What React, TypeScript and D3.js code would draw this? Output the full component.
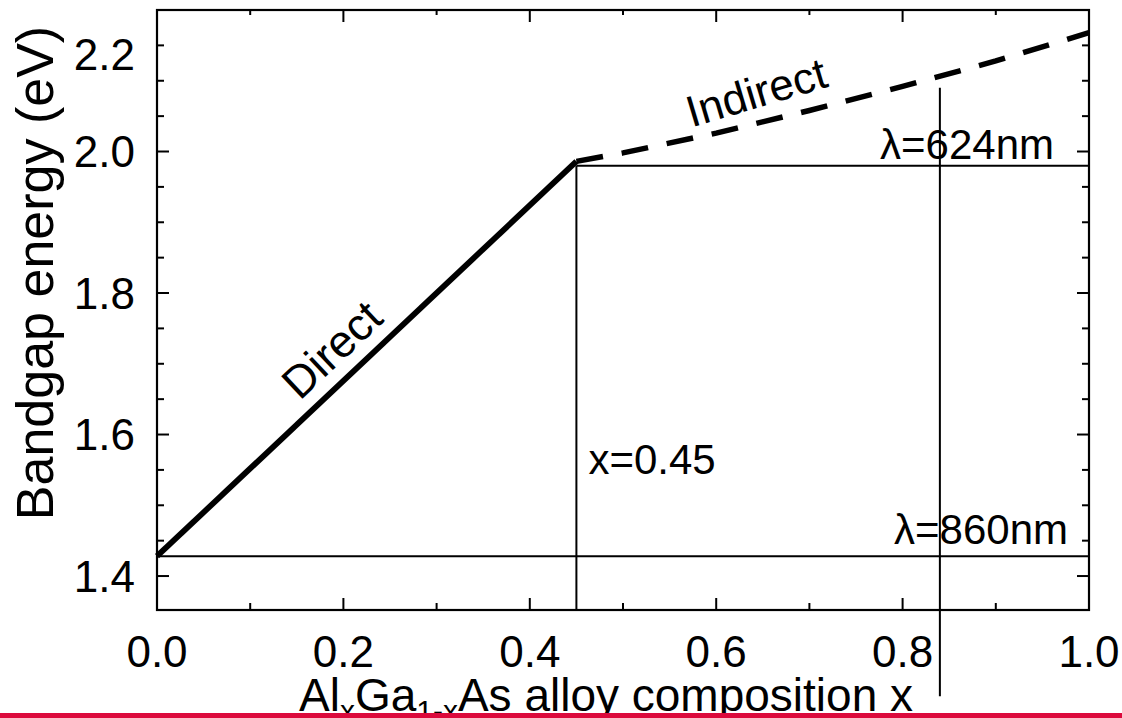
import React from "react";
import * as d3 from "d3";

// ---- data ----
const directX = [0, 0.45];
const directY = [1.428, 1.986];
const indirectX = [0.45, 0.5, 0.6, 0.7, 0.8, 0.9, 1.0];
const indirectY = [1.986, 1.998, 2.026, 2.058, 2.092, 2.128, 2.168];
const xTickValues = [0, 0.2, 0.4, 0.6, 0.8, 1.0];
const xTickLabels = ["0.0", "0.2", "0.4", "0.6", "0.8", "1.0"];
const yTickValues = [1.4, 1.6, 1.8, 2.0, 2.2];
const yTickLabels = ["1.4", "1.6", "1.8", "2.0", "2.2"];
const xMinorTicks = [0.1, 0.3, 0.5, 0.7, 0.9];
const yMinorTicks = [1.45, 1.5, 1.55, 1.65, 1.7, 1.75, 1.85, 1.9, 1.95, 2.05, 2.1, 2.15];
const xDomain = [0, 1];
const yDomain = [1.352, 2.2];
// reference lines
const composition = 0.45; // vertical line at x=0.45
const e624 = 1.98; // λ=624nm level
const e860 = 1.428; // λ=860nm level
const xMarker = 0.84; // second vertical line
const xMarkerTop = 2.09;
const xMarkerBottom = 1.23;

const FONT = "'Liberation Sans', Arial, Helvetica, sans-serif";

export default function App() {
  const W = 1122;
  const H = 718;
  const left = 157, right = 1089, top = 10, bottom = 610;
  const x = d3.scaleLinear().domain(xDomain).range([left, right]);
  const y = d3.scaleLinear().domain(yDomain).range([bottom, top]);

  const line = d3
    .line<[number, number]>()
    .x((d) => x(d[0]))
    .y((d) => y(d[1]));

  const directPts: [number, number][] = directX.map((v, i) => [v, directY[i]]);
  const indirectPts: [number, number][] = indirectX.map((v, i) => [v, indirectY[i]]);

  // angles of the lines on screen for the rotated labels
  const dAng =
    (Math.atan2(y(directY[1]) - y(directY[0]), x(directX[1]) - x(directX[0])) * 180) / Math.PI;
  const iAng =
    (Math.atan2(
      y(indirectY[indirectY.length - 1]) - y(indirectY[0]),
      x(indirectX[indirectX.length - 1]) - x(indirectX[0])
    ) *
      180) /
    Math.PI;

  const dLabelX = 0.21;
  const dLabelY = directY[0] + ((directY[1] - directY[0]) * dLabelX) / directX[1];
  const iLabelX = 0.652;
  const iLabelY = 2.044;

  const major = 12;
  const minor = 7;

  return (
    <svg
      width={W}
      height={H}
      style={{ position: "absolute", left: 0, top: 0, background: "#fff" }}
      fontFamily={FONT}
    >
      <rect x={0} y={0} width={W} height={H} fill="#fff" />

      {/* reference thin lines */}
      <line x1={x(0)} x2={x(1)} y1={y(e860)} y2={y(e860)} stroke="#000" strokeWidth={2} />
      <line x1={x(composition)} x2={x(1)} y1={y(e624)} y2={y(e624)} stroke="#000" strokeWidth={2} />
      <line
        x1={x(composition)}
        x2={x(composition)}
        y1={y(e624)}
        y2={y(yDomain[0])}
        stroke="#000"
        strokeWidth={2}
      />
      <line
        x1={x(xMarker)}
        x2={x(xMarker)}
        y1={y(xMarkerTop)}
        y2={y(xMarkerBottom)}
        stroke="#000"
        strokeWidth={2}
      />

      {/* frame */}
      <rect
        x={left}
        y={top}
        width={right - left}
        height={bottom - top}
        fill="none"
        stroke="#000"
        strokeWidth={2.2}
      />

      {/* x ticks (bottom + top, inward) */}
      {xTickValues.map((v) => (
        <g key={"xt" + v}>
          <line x1={x(v)} x2={x(v)} y1={bottom} y2={bottom - major} stroke="#000" strokeWidth={2} />
          <line x1={x(v)} x2={x(v)} y1={top} y2={top + major} stroke="#000" strokeWidth={2} />
        </g>
      ))}
      {xMinorTicks.map((v) => (
        <g key={"xm" + v}>
          <line x1={x(v)} x2={x(v)} y1={bottom} y2={bottom - minor} stroke="#000" strokeWidth={2} />
          <line x1={x(v)} x2={x(v)} y1={top} y2={top + 5} stroke="#000" strokeWidth={2} />
        </g>
      ))}
      {/* y ticks (left + right, inward) */}
      {yTickValues.map((v) => (
        <g key={"yt" + v}>
          <line x1={left} x2={left + major} y1={y(v)} y2={y(v)} stroke="#000" strokeWidth={2} />
          <line x1={right} x2={right - major} y1={y(v)} y2={y(v)} stroke="#000" strokeWidth={2} />
        </g>
      ))}
      {yMinorTicks.map((v) => (
        <g key={"ym" + v}>
          <line x1={left} x2={left + minor} y1={y(v)} y2={y(v)} stroke="#000" strokeWidth={2} />
          <line x1={right} x2={right - minor} y1={y(v)} y2={y(v)} stroke="#000" strokeWidth={2} />
        </g>
      ))}

      {/* tick labels */}
      {xTickValues.map((v, i) => (
        <text key={"xl" + v} x={x(v)} y={667} textAnchor="middle" fontSize={44} fill="#000">
          {xTickLabels[i]}
        </text>
      ))}
      {yTickValues.map((v, i) => (
        <text
          key={"yl" + v}
          x={135}
          y={Math.max(y(v), top + 44)}
          dy="0.36em"
          textAnchor="end"
          fontSize={44}
          fill="#000"
        >
          {yTickLabels[i]}
        </text>
      ))}

      {/* curves */}
      <path d={line(directPts) || ""} fill="none" stroke="#000" strokeWidth={5.8} strokeLinecap="butt" />
      <path
        d={line(indirectPts) || ""}
        fill="none"
        stroke="#000"
        strokeWidth={5.5}
        strokeDasharray="27 19"
        strokeLinecap="butt"
      />

      {/* curve labels */}
      <g transform={`translate(${x(dLabelX)},${y(dLabelY)}) rotate(${dAng})`}>
        <text x={0} y={-15} textAnchor="middle" fontSize={45} fill="#000">
          Direct
        </text>
      </g>
      <g transform={`translate(${x(iLabelX)},${y(iLabelY)}) rotate(${iAng - 2.5})`}>
        <text x={0} y={-14} textAnchor="middle" fontSize={44} fill="#000">
          Indirect
        </text>
      </g>

      {/* annotations */}
      <text x={x(composition) + 12} y={y(1.544)} fontSize={42} fill="#000">
        x=0.45
      </text>
      <text x={1054} y={y(e624) - 7} textAnchor="end" fontSize={42} fill="#000">
        λ=624nm
      </text>
      <text x={1068} y={y(e860) - 12} textAnchor="end" fontSize={42} fill="#000">
        λ=860nm
      </text>

      {/* axis titles */}
      <text
        transform={`translate(53,${(top + bottom) / 2 - 37}) rotate(-90)`}
        textAnchor="middle"
        fontSize={52}
        fill="#000"
      >
        Bandgap energy (eV)
      </text>
      <text x={606} y={711} textAnchor="middle" fontSize={46} fill="#000">
        Al
        <tspan fontSize={30} dy={10}>x</tspan>
        <tspan dy={-10}>Ga</tspan>
        <tspan fontSize={30} dy={10}>1-x</tspan>
        <tspan dy={-10}>As alloy composition x</tspan>
      </text>

      {/* red bar at the bottom */}
      <rect x={0} y={713} width={W} height={5} fill="#dc0a3c" />
    </svg>
  );
}
